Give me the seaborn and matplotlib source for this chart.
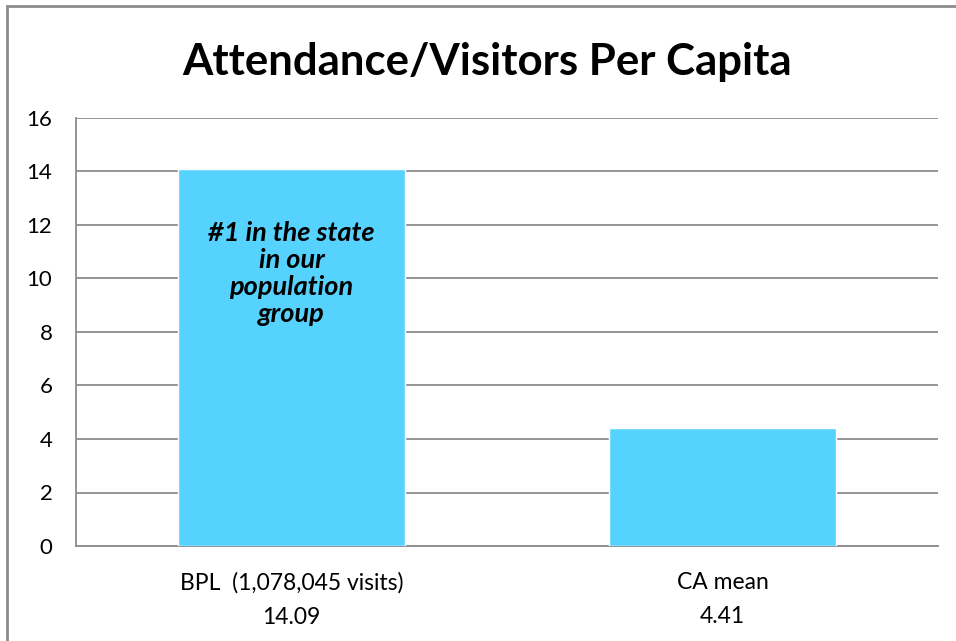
import pandas as pd
import numpy as np
import matplotlib.pyplot as plt
import seaborn as sns
from matplotlib.patches import Rectangle

# Chart data
categories = ['BPL  (1,078,045 visits)\n14.09', 'CA mean\n4.41']
values = [14.09, 4.41]
y_ticks = [0, 2, 4, 6, 8, 10, 12, 14, 16]
title = 'Attendance/Visitors Per Capita'
note = '#1 in the state\nin our\npopulation\ngroup'

sns.set_theme(style='white')
plt.rcParams['font.family'] = ['Lato', 'DejaVu Sans']
plt.rcParams['text.color'] = 'black'

fig = plt.figure(figsize=(9.56, 6.41), dpi=100)
ax = fig.add_axes([76 / 956, 1 - 546 / 641, (938 - 76) / 956, (546 - 118) / 641])

df = pd.DataFrame({'category': categories, 'value': values})
sns.barplot(data=df, x='category', y='value', color='#55D3FE', saturation=1,
            width=0.527, ax=ax, zorder=3)

ax.set_xlim(-0.5, 1.5)
ax.set_ylim(0, 16)
ax.set_yticks(y_ticks)
ax.set_xticks(range(len(categories)))
ax.set_xticklabels(categories, linespacing=1.75)
ax.set_xlabel('')
ax.set_ylabel('')
ax.yaxis.grid(True, color='#8c8c8c', linewidth=1.3, zorder=0)
ax.set_axisbelow(True)
for side in ['top', 'right']:
    ax.spines[side].set_visible(False)
for side in ['left', 'bottom']:
    ax.spines[side].set_color('#8c8c8c')
    ax.spines[side].set_linewidth(1.3)
ax.tick_params(axis='y', length=0, pad=17, labelsize=16, colors='black')
ax.tick_params(axis='x', length=0, pad=19, labelsize=16.5, colors='black')

# annotation inside the first bar
ax.text(0, 12.15, note, ha='center', va='top', fontsize=19.5, fontweight='bold',
        fontstyle='italic', linespacing=1.15, color='black', zorder=4)

fig.text(487 / 956, 1 - 62 / 641, title, ha='center', va='center',
         fontsize=31.5, fontweight='bold', color='black')

# outer frame of the chart
fig.patches.append(Rectangle((7 / 956, -0.05), 1.0, 1 - 6 / 641 + 0.05,
                             transform=fig.transFigure, fill=False,
                             edgecolor='#8c8c8c', linewidth=2))

plt.savefig('out.png', dpi=100)
plt.close()
